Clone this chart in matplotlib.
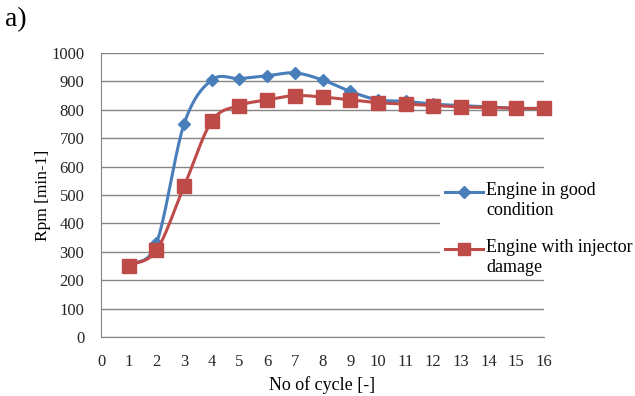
import numpy as np
import matplotlib.pyplot as plt
from matplotlib.lines import Line2D
from matplotlib.patches import Rectangle

plt.rcParams['font.family'] = ['Liberation Serif', 'DejaVu Serif']

cycles = list(range(1, 17))
good = [250, 330, 750, 905, 910, 920, 930, 905, 865, 835, 830, 820, 815, 810, 805, 805]
damaged = [250, 305, 530, 760, 815, 835, 850, 845, 835, 825, 820, 815, 810, 808, 805, 805]
labels = ['Engine in good\ncondition', 'Engine with injector\ndamage']


def smooth(x, y, n=20):
    """ Catmull-Rom curve through the points, like a spreadsheet smoothed line. """
    x = np.asarray(x, float)
    y = np.asarray(y, float)
    px = np.concatenate([[2 * x[0] - x[1]], x, [2 * x[-1] - x[-2]]])
    py = np.concatenate([[2 * y[0] - y[1]], y, [2 * y[-1] - y[-2]]])
    xs, ys = [], []
    t = np.linspace(0, 1, n, endpoint=False)
    for i in range(1, len(px) - 2):
        for p, out in ((px, xs), (py, ys)):
            p0, p1, p2, p3 = p[i - 1], p[i], p[i + 1], p[i + 2]
            out.extend(0.5 * (2 * p1 + (-p0 + p2) * t
                              + (2 * p0 - 5 * p1 + 4 * p2 - p3) * t ** 2
                              + (-p0 + 3 * p1 - 3 * p2 + p3) * t ** 3))
    xs.append(x[-1])
    ys.append(y[-1])
    return xs, ys


W, H = 635, 396
fig = plt.figure(figsize=(W / 100, H / 100), dpi=100)
ax = fig.add_axes([101 / W, 1 - 337 / H, 443 / W, 284 / H])

blue = '#4A7EBB'
red = '#BE4B48'

sx, sy = smooth(cycles, good)
ax.plot(sx, sy, color=blue, lw=2.2, zorder=3, clip_on=False)
ax.plot(cycles, good, ls='none', marker='D', ms=6, color=blue, zorder=3, clip_on=False)
sx, sy = smooth(cycles, damaged)
ax.plot(sx, sy, color=red, lw=2.2, zorder=4, clip_on=False)
ax.plot(cycles, damaged, ls='none', marker='s', ms=10, color=red, zorder=4, clip_on=False)

ax.set_xlim(0, 16)
ax.set_ylim(0, 1000)
ax.set_xticks(range(0, 17))
ax.set_yticks(range(0, 1001, 100))
ax.grid(axis='y', color='#868686', lw=1)
ax.set_axisbelow(True)
for s in ('top', 'right'):
    ax.spines[s].set_visible(False)
ax.spines['left'].set_color('#868686')
ax.spines['bottom'].set_color('#868686')
ax.tick_params(length=0, labelsize=12, colors='#262626')
ax.tick_params(axis='x', pad=12)
ax.tick_params(axis='y', pad=12)

ax.set_xlabel('No of cycle [-]', fontsize=13, labelpad=5)
ax.set_ylabel('Rpm [min-1]', fontsize=12.5, labelpad=0)

# legend drawn by hand: white box over the grid, handle level with first text line
fig.add_artist(Rectangle((440 / W, 1 - 272 / H), 195 / W, 97 / H,
                         transform=fig.transFigure, facecolor='white',
                         edgecolor='none', zorder=5))
for (lab, col, mk, ms), ypx in zip(
        [(labels[0], blue, 'D', 6), (labels[1], red, 's', 9)], [192, 249]):
    yf = 1 - ypx / H
    fig.add_artist(Line2D([445 / W, 483 / W], [yf, yf], transform=fig.transFigure,
                          color=col, lw=2.2, zorder=6))
    fig.add_artist(Line2D([464 / W], [yf], transform=fig.transFigure, color=col,
                          marker=mk, ms=ms, zorder=6))
    fig.text(486 / W, 1 - (ypx - 10) / H, lab, fontsize=13, va='top', ha='left',
             linespacing=1.2, zorder=7)

fig.text(5 / W, 1 - 20 / H, 'a)', fontsize=20, va='center')

fig.savefig('out.png', dpi=100)
